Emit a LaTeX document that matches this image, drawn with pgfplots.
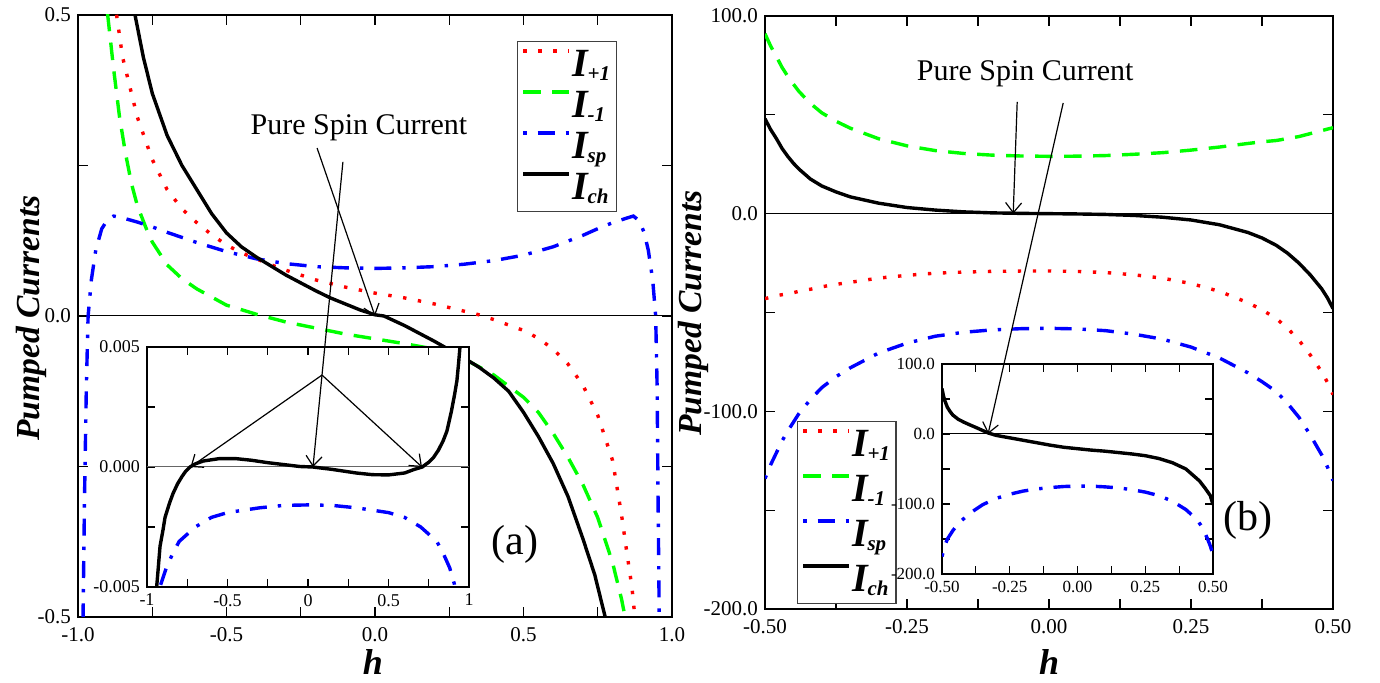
\documentclass[border=0pt]{standalone}
\usepackage{fontspec}
\setmainfont{Liberation Serif}
\usepackage{pgfplots}
\pgfplotsset{compat=1.18}
\usetikzlibrary{arrows.meta}
\definecolor{cred}{RGB}{255,0,0}
\definecolor{cgreen}{RGB}{0,255,0}
\definecolor{cblue}{RGB}{0,0,255}
\newcommand{\LI}[1]{\textbf{\textit{I}}\kern-1pt\raisebox{-2pt}{\fontsize{10.5}{10.5}\selectfont\textbf{\textit{#1}}}}
\pgfplotsset{
  sred/.style={cred, line width=1.7pt, line cap=butt, dash pattern=on 1.7pt off 5.8pt},
  sgreen/.style={cgreen, line width=1.7pt, line cap=butt, dash pattern=on 8.8pt off 5.7pt},
  sblue/.style={cblue, line width=1.7pt, line cap=butt, dash pattern=on 1.7pt off 5.5pt on 8.5pt off 5.5pt},
  sblack/.style={black, line width=1.7pt},
  base/.style={scale only axis, anchor=south west, axis line style={line width=1pt},
    tick align=inside, tick pos=both, major tick length=5pt, minor tick length=5pt,
    every tick/.style={black, line width=0.6pt}, scaled ticks=false,
    axis background/.style={fill=white}},
  leg/.style={legend cell align=left,
    legend image code/.code={\draw[##1] (0pt,7pt) -- (23pt,7pt);},
    legend style={draw=black!75, line width=0.6pt, fill=white, anchor=north west,
      inner xsep=2pt, inner ysep=3pt, font=\fontsize{20}{20}\selectfont,
      nodes={inner sep=1pt, text height=13.5pt, text depth=2pt}}},
}
\begin{document}
\begin{tikzpicture}
\path[use as bounding box] (0,0) rectangle (690pt,341.5pt);
% ---------------- left main panel ----------------
\begin{axis}[base, leg, at={(39pt,33pt)}, width=297pt, height=301pt,
  xmin=-1, xmax=1, ymin=-0.5, ymax=0.5,
  xtick={-1,-0.5,0,0.5,1}, xticklabels={-1.0,-0.5,0.0,0.5,1.0},
  ytick={-0.5,0,0.5}, yticklabels={-0.5,0.0,0.5},
  minor x tick num=1, minor y tick num=1,
  ticklabel style={font=\fontsize{10.5}{11}\selectfont},
  xticklabel style={yshift=-1.5pt},
  legend style={at={(0.739,0.957)}, row sep=3pt}]
\draw[line width=0.5pt] (axis cs:-1,0) -- (axis cs:1,0);
\addplot[sred] coordinates {(-0.88,0.55) (-0.87,0.5) (-0.85,0.43) (-0.82,0.37) (-0.8,0.33) (-0.75,0.26) (-0.7,0.21) (-0.65,0.178) (-0.6,0.155) (-0.55,0.135) (-0.5,0.118) (-0.45,0.105) (-0.4,0.095) (-0.35,0.085) (-0.3,0.076) (-0.2,0.06) (-0.1,0.048) (0,0.038) (0.1,0.03) (0.2,0.02) (0.3,0.008) (0.35,0.002) (0.4,-0.006) (0.5,-0.024) (0.55,-0.037) (0.6,-0.055) (0.65,-0.08) (0.7,-0.115) (0.75,-0.165) (0.8,-0.24) (0.83,-0.33) (0.85,-0.40) (0.865,-0.45) (0.875,-0.5) (0.88,-0.53)};
\addlegendentry{\LI{+1}}
\addplot[sgreen] coordinates {(-0.91,0.55) (-0.9,0.5) (-0.88,0.41) (-0.86,0.33) (-0.84,0.27) (-0.82,0.22) (-0.8,0.183) (-0.77,0.145) (-0.75,0.123) (-0.7,0.085) (-0.65,0.062) (-0.6,0.045) (-0.5,0.018) (-0.4,0.003) (-0.3,-0.01) (-0.2,-0.02) (-0.1,-0.03) (0,-0.038) (0.1,-0.046) (0.2,-0.055) (0.3,-0.071) (0.4,-0.098) (0.5,-0.135) (0.55,-0.16) (0.6,-0.195) (0.65,-0.235) (0.7,-0.28) (0.75,-0.335) (0.8,-0.41) (0.83,-0.47) (0.842,-0.5) (0.85,-0.53)};
\addlegendentry{\LI{-1}}
\addplot[sblue] coordinates {(-0.985,-0.6) (-0.983,-0.5) (-0.978,-0.3) (-0.972,-0.12) (-0.966,0) (-0.955,0.06) (-0.94,0.11) (-0.92,0.145) (-0.9,0.16) (-0.88,0.166) (-0.85,0.163) (-0.8,0.156) (-0.75,0.148) (-0.7,0.139) (-0.6,0.122) (-0.5,0.107) (-0.4,0.095) (-0.3,0.087) (-0.2,0.082) (-0.1,0.08) (0,0.079) (0.1,0.08) (0.2,0.082) (0.3,0.086) (0.4,0.092) (0.5,0.101) (0.6,0.115) (0.7,0.134) (0.75,0.145) (0.8,0.155) (0.85,0.163) (0.87,0.166) (0.89,0.158) (0.905,0.14) (0.92,0.11) (0.935,0.06) (0.945,0.0) (0.95,-0.12) (0.953,-0.3) (0.957,-0.5) (0.96,-0.6)};
\addlegendentry{\LI{sp}}
\addplot[sblack] coordinates {(-0.82,0.55) (-0.808,0.5) (-0.78,0.43) (-0.75,0.37) (-0.7,0.3) (-0.65,0.25) (-0.6,0.21) (-0.55,0.17) (-0.5,0.138) (-0.45,0.115) (-0.4,0.098) (-0.35,0.083) (-0.3,0.068) (-0.25,0.055) (-0.2,0.042) (-0.15,0.03) (-0.1,0.02) (-0.05,0.01) (0,0.002) (0.03,0) (0.1,-0.016) (0.15,-0.029) (0.2,-0.042) (0.25,-0.056) (0.3,-0.07) (0.35,-0.085) (0.4,-0.103) (0.45,-0.125) (0.5,-0.16) (0.55,-0.2) (0.6,-0.245) (0.65,-0.3) (0.7,-0.37) (0.74,-0.43) (0.775,-0.5) (0.79,-0.53)};
\addlegendentry{\LI{ch}}
\coordinate (Ltxt) at (axis cs:-0.054,0.312);
\coordinate (L1a) at (axis cs:-0.195,0.279);
\coordinate (L1b) at (axis cs:0.0,0.0);
\coordinate (L2a) at (axis cs:-0.108,0.256);
\coordinate (Llab) at (axis cs:0.471,-0.38);
\end{axis}
% ---------------- left inset ----------------
\begin{axis}[base, at={(73.5pt,48pt)}, width=161pt, height=120pt,
  xmin=-1, xmax=1, ymin=-0.005, ymax=0.005,
  xtick={-1,-0.5,0,0.5,1}, xticklabels={-1,-0.5,0,0.5,1},
  ytick={-0.005,0,0.005}, yticklabels={-0.005,0.000,0.005},
  minor x tick num=1, minor y tick num=1, major tick length=4pt, minor tick length=4pt,
  axis line style={line width=0.8pt},
  ticklabel style={font=\fontsize{9}{10}\selectfont}]
\draw[line width=0.5pt, black!60] (axis cs:-1,0) -- (axis cs:1,0);
\addplot[sblue] coordinates {(-0.93,-0.0055) (-0.92,-0.005) (-0.88,-0.0042) (-0.84,-0.0036) (-0.8,-0.0031) (-0.75,-0.0028) (-0.7,-0.0025) (-0.6,-0.0021) (-0.5,-0.0019) (-0.4,-0.0018) (-0.3,-0.0017) (-0.15,-0.0016) (0,-0.00158) (0.15,-0.0016) (0.3,-0.0017) (0.4,-0.0018) (0.5,-0.0019) (0.6,-0.0021) (0.7,-0.0025) (0.75,-0.0028) (0.8,-0.0031) (0.84,-0.0036) (0.88,-0.0042) (0.91,-0.0049) (0.915,-0.0055)};
\addplot[sblack] coordinates {(-0.943,-0.0055) (-0.94,-0.005) (-0.93,-0.0042) (-0.919,-0.0033) (-0.9,-0.0026) (-0.888,-0.0021) (-0.86,-0.0015) (-0.838,-0.0011) (-0.81,-0.0007) (-0.783,-0.0004) (-0.76,-0.00018) (-0.733,0.0) (-0.7,0.00013) (-0.65,0.00025) (-0.55,0.00035) (-0.45,0.00035) (-0.35,0.00028) (-0.25,0.00018) (-0.15,0.0001) (-0.05,0.00002) (0.03,0.0) (0.15,-0.0001) (0.3,-0.00025) (0.4,-0.00032) (0.5,-0.00033) (0.6,-0.00025) (0.66,-0.0001) (0.71,0.0) (0.75,0.0002) (0.78,0.0004) (0.81,0.0007) (0.84,0.0011) (0.863,0.0015) (0.89,0.0023) (0.91,0.003) (0.925,0.0036) (0.935,0.0043) (0.944,0.005) (0.948,0.0055)};
\coordinate (L2b) at (axis cs:0.031,0);
\coordinate (Lap) at (axis cs:0.087,0.00383);
\coordinate (Lt1) at (axis cs:-0.73,0);
\coordinate (Lt3) at (axis cs:0.708,0);
\end{axis}
% ---------------- right main panel ----------------
\begin{axis}[base, leg, at={(382.5pt,37pt)}, width=284pt, height=296.5pt,
  xmin=-0.5, xmax=0.5, ymin=-200, ymax=100,
  xtick={-0.5,-0.25,0,0.25,0.5}, xticklabels={-0.50,-0.25,0.00,0.25,0.50},
  ytick={-200,-100,0,100}, yticklabels={-200.0,-100.0,0.0,100.0},
  minor x tick num=1, minor y tick num=1,
  ticklabel style={font=\fontsize{10.5}{11}\selectfont},
  xticklabel style={yshift=-1.5pt},
  legend style={at={(0.056,0.317)}, row sep=5pt}]
\draw[line width=0.5pt] (axis cs:-0.5,0) -- (axis cs:0.5,0);
\addplot[sred] coordinates {(-0.5,-43) (-0.49,-42.25) (-0.48,-41.5) (-0.47,-41) (-0.46,-40.5) (-0.45,-40) (-0.44,-39.25) (-0.42,-38.25) (-0.4,-37) (-0.375,-35.75) (-0.35,-34.75) (-0.3,-32.6) (-0.25,-31.2) (-0.2,-30.1) (-0.15,-29.55) (-0.1,-29.2) (-0.05,-29.03) (0,-29) (0.05,-29.23) (0.1,-29.8) (0.15,-30.95) (0.2,-32.65) (0.25,-35.35) (0.3,-39.3) (0.35,-45) (0.375,-48.65) (0.4,-53) (0.42,-58) (0.44,-64) (0.46,-71.5) (0.47,-75.75) (0.48,-80) (0.49,-85.25) (0.5,-91.5)};
\addlegendentry{\LI{+1}}
\addplot[sgreen] coordinates {(-0.5,91) (-0.49,84.75) (-0.48,79.5) (-0.47,74) (-0.46,69.5) (-0.45,65.5) (-0.44,61.75) (-0.42,55.75) (-0.4,51) (-0.375,46.75) (-0.35,43.25) (-0.3,37.9) (-0.25,34.3) (-0.2,31.9) (-0.15,30.45) (-0.1,29.6) (-0.05,29.18) (0,29) (0.05,29.08) (0.1,29.4) (0.15,30.05) (0.2,30.85) (0.25,32.15) (0.3,33.7) (0.35,35.5) (0.375,36.35) (0.4,37) (0.42,38) (0.44,39) (0.46,40.5) (0.47,41.25) (0.48,42) (0.49,42.75) (0.5,43.5)};
\addlegendentry{\LI{-1}}
\addplot[sblue] coordinates {(-0.5,-134) (-0.49,-127) (-0.48,-121) (-0.47,-115) (-0.46,-110) (-0.45,-105.5) (-0.44,-101) (-0.42,-94) (-0.4,-88) (-0.375,-82.5) (-0.35,-78) (-0.3,-70.5) (-0.25,-65.5) (-0.2,-62) (-0.15,-60) (-0.1,-58.8) (-0.05,-58.2) (0,-58) (0.05,-58.3) (0.1,-59.2) (0.15,-61) (0.2,-63.5) (0.25,-67.5) (0.3,-73) (0.35,-80.5) (0.375,-85) (0.4,-90) (0.42,-96) (0.44,-103) (0.46,-112) (0.47,-117) (0.48,-122) (0.49,-128) (0.5,-135)};
\addlegendentry{\LI{sp}}
\addplot[sblack] coordinates {(-0.5,48) (-0.49,42.5) (-0.48,38) (-0.47,33) (-0.46,29) (-0.45,25.5) (-0.44,22.5) (-0.42,17.5) (-0.4,14) (-0.375,11) (-0.35,8.5) (-0.3,5.3) (-0.25,3.1) (-0.2,1.8) (-0.15,0.9) (-0.1,0.4) (-0.05,0.15) (0,0) (0.05,-0.15) (0.1,-0.4) (0.15,-0.9) (0.2,-1.8) (0.25,-3.2) (0.3,-5.6) (0.35,-9.5) (0.375,-12.3) (0.4,-16) (0.42,-20) (0.44,-25) (0.46,-31) (0.47,-34.5) (0.48,-38) (0.49,-42.5) (0.5,-48)};
\addlegendentry{\LI{ch}}
\coordinate (Rtxt) at (axis cs:-0.042,70.7);
\coordinate (R1a) at (axis cs:-0.056,56.5);
\coordinate (R1b) at (axis cs:-0.063,0);
\coordinate (R2a) at (axis cs:0.025,56);
\coordinate (Rlab) at (axis cs:0.35,-155);
\end{axis}
% ---------------- right inset ----------------
\begin{axis}[base, at={(471pt,54.5pt)}, width=135.5pt, height=105pt,
  xmin=-0.5, xmax=0.5, ymin=-200, ymax=100,
  xtick={-0.5,-0.25,0,0.25,0.5}, xticklabels={-0.50,-0.25,0.00,0.25,0.50},
  ytick={-200,-100,0,100}, yticklabels={-200.0,-100.0,0.0,100.0},
  minor x tick num=1, minor y tick num=1, major tick length=4pt, minor tick length=4pt,
  axis line style={line width=0.8pt},
  ticklabel style={font=\fontsize{8.5}{9}\selectfont}]
\draw[line width=0.5pt] (axis cs:-0.5,0) -- (axis cs:0.5,0);
\addplot[sblue] coordinates {(-0.5,-175) (-0.49,-160) (-0.48,-150) (-0.46,-138) (-0.44,-128) (-0.4,-114) (-0.35,-101) (-0.3,-92) (-0.25,-86) (-0.2,-81.5) (-0.15,-78.5) (-0.1,-76.5) (-0.05,-75) (0,-74.5) (0.05,-74.5) (0.1,-75.5) (0.15,-77) (0.2,-79.5) (0.25,-83) (0.3,-88) (0.35,-96) (0.4,-108) (0.44,-122) (0.46,-133) (0.48,-150) (0.49,-160) (0.5,-172)};
\addplot[sblack] coordinates {(-0.5,65) (-0.495,55) (-0.49,48) (-0.48,38) (-0.47,32) (-0.46,27) (-0.44,21) (-0.42,17) (-0.4,13.5) (-0.37,8.5) (-0.35,5) (-0.33,1.5) (-0.3,-2) (-0.25,-5.5) (-0.2,-9) (-0.15,-12.5) (-0.1,-16) (-0.05,-19) (0,-21) (0.05,-23) (0.1,-24.5) (0.15,-26.5) (0.2,-28.5) (0.25,-31) (0.3,-35) (0.35,-41) (0.4,-50) (0.45,-67) (0.47,-77) (0.49,-88) (0.5,-101)};
\coordinate (R2b) at (axis cs:-0.33,0);
\end{axis}
% ---------------- annotations ----------------
\tikzset{arr/.style={line width=0.6pt, -{Straight Barb[length=5pt,width=8pt,line width=0.6pt]}}}
\node[font=\fontsize{15}{15}\selectfont] at (Ltxt) {Pure Spin Current};
\draw[arr] (L1a) -- (L1b);
\draw[arr] (L2a) -- (L2b);
\draw[arr] (Lap) -- (Lt1);
\draw[arr] (Lap) -- (Lt3);
\node[font=\fontsize{21}{21}\selectfont] at (Llab) {(a)};
\node[font=\fontsize{15}{15}\selectfont] at (Rtxt) {Pure Spin Current};
\draw[arr] (R1a) -- (R1b);
\draw[arr] (R2a) -- (R2b);
\node[font=\fontsize{21}{21}\selectfont] at (Rlab) {(b)};
% axis labels
\node[rotate=90, font=\fontsize{16.8}{17}\selectfont\bfseries\itshape] at (15.5pt,182.5pt) {Pumped Currents};
\node[rotate=90, font=\fontsize{16.8}{17}\selectfont\bfseries\itshape] at (346.5pt,185pt) {Pumped Currents};
\node[font=\fontsize{18}{18}\selectfont\bfseries\itshape] at (186.5pt,10.5pt) {h};
\node[font=\fontsize{18}{18}\selectfont\bfseries\itshape] at (524.5pt,10.5pt) {h};
\end{tikzpicture}
\end{document}
